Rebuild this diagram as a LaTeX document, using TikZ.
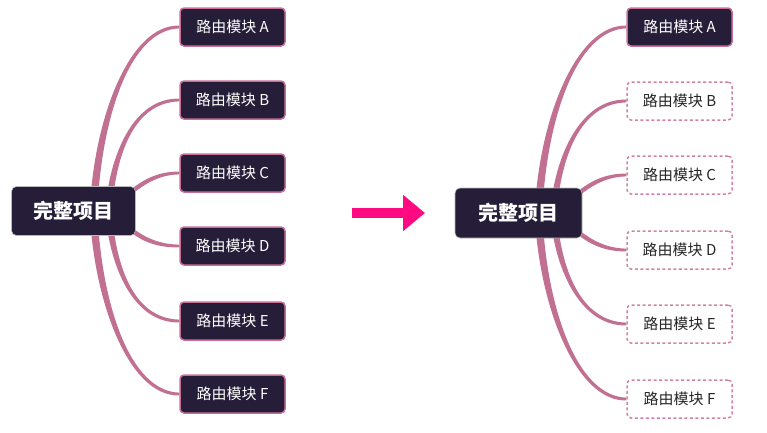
\documentclass[tikz,border=0pt]{standalone}
\usepackage{fontspec}
\newfontfamily\cjk{Noto Sans CJK SC}
\usetikzlibrary{calc, arrows.meta, backgrounds}

\definecolor{branchpink}{RGB}{193,112,145}
\definecolor{rootdark}{RGB}{38,29,56}
\definecolor{edgepink}{RGB}{201,110,150}
\definecolor{arrowpink}{RGB}{255,10,128}

\tikzset{
    rootbox/.style={draw=gray!55, line width=0.6pt, rounded corners=5pt, fill=rootdark, text=white,
        minimum width=124pt, minimum height=49pt, font=\cjk\bfseries\fontsize{20}{24}\selectfont},
    modbox/.style={draw=edgepink, line width=1.5pt, rounded corners=4pt, fill=rootdark, text=white,
        minimum width=105pt, minimum height=38pt, font=\cjk\fontsize{15}{18}\selectfont},
    modghost/.style={modbox, draw=edgepink!85, dash pattern=on 3pt off 2.5pt, fill=white, text=black!85},
}

\begin{document}
\begin{tikzpicture}[x=1pt, y=-1pt]
    \useasboundingbox (0,0) rectangle (767,432);

    % Root nodes: full project (left) and the same project after the split (right)
    \node[rootbox] (rootL) at (73.5,211) {完整项目};
    \node[rootbox, minimum width=127pt, minimum height=50pt] (rootR) at (518.5,213) {完整项目};

    % Route modules: all solid on the left, only A solid on the right
    \foreach \k/\yl/\yr/\st in {A/27/27/modbox, B/100/101/modghost, C/173/175/modghost,
                                D/246/250/modghost, E/321/324/modghost, F/394/399/modghost} {
        \node[modbox] (modL-\k) at (232.5,\yl) {路由模块 \k};
        \node[\st] (modR-\k) at (679.5,\yr) {路由模块 \k};
    }

    % Tapered branches behind the boxes
    \begin{scope}[on background layer]
        \foreach \s in {L,R} {
            % outer and middle branches leave the root upward / downward
            \foreach \k/\dx/\w/\c/\sy in {A/20/3.8/50/-1, B/35/3.3/46/-1, E/35/3.3/46/1, F/20/3.8/50/1} {
                \fill[branchpink]
                    ($(root\s.center)+(\dx-\w,0)$)
                    .. controls ($(root\s.center)!0.5!(root\s.center |- mod\s-\k.west)+(\dx-\w+4,0)$)
                    and ($(mod\s-\k.west)+(-\c,\sy*\w*0.75)$) .. ($(mod\s-\k.west)+(0,\sy*1.4)$)
                    -- ($(mod\s-\k.west)+(0,-\sy*1.4)$)
                    .. controls ($(mod\s-\k.west)+(-\c,-\sy*\w*0.75)$)
                    and ($(root\s.center)!0.5!(root\s.center |- mod\s-\k.west)+(\dx+\w+4,0)$)
                    .. ($(root\s.center)+(\dx+\w,0)$) -- cycle;
            }
            % short branches from the root's right corners
            \foreach \k/\sy in {C/-1, D/1} {
                \fill[branchpink]
                    ($(root\s.east)+(-8,16*\sy-2.8)$)
                    .. controls ($(root\s.east)+(6,28*\sy-2.8)$) and ($(mod\s-\k.west)+(-22,-1.7)$)
                    .. ($(mod\s-\k.west)+(0,-1.4)$)
                    -- ($(mod\s-\k.west)+(0,1.4)$)
                    .. controls ($(mod\s-\k.west)+(-22,1.7)$) and ($(root\s.east)+(6,28*\sy+2.8)$)
                    .. ($(root\s.east)+(-8,16*\sy+2.8)$) -- cycle;
            }
        }
    \end{scope}

    % Big arrow between the two states
    \coordinate (arrowtail) at (352,213);
    \coordinate (arrowtip) at (425,213);
    \draw[arrowpink, line width=10pt, -{Triangle[length=22pt, width=35pt]}] (arrowtail) -- (arrowtip);
\end{tikzpicture}
\end{document}
